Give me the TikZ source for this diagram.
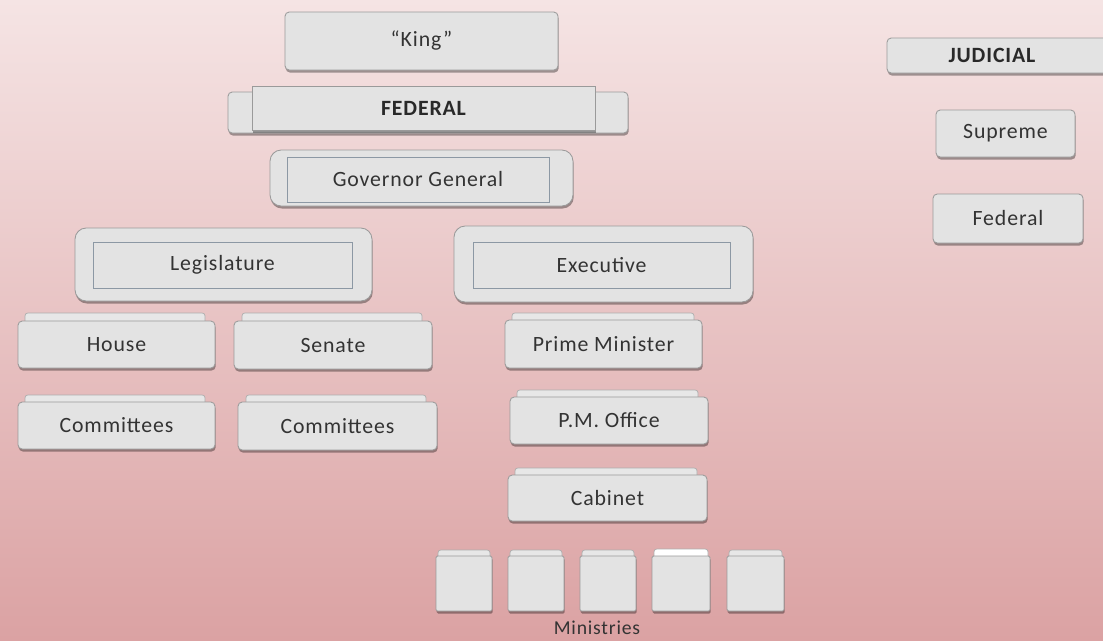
\documentclass[tikz,border=0pt]{standalone}
\usepackage{fontspec}
\setmainfont{Carlito}[LetterSpace=4]
\usetikzlibrary{fit,shadows}
\definecolor{bgtop}{HTML}{F5E4E4}
\definecolor{bgbot}{HTML}{DBA2A3}
\definecolor{boxfill}{HTML}{E3E3E3}
\definecolor{boxline}{HTML}{9A9A9A}
\definecolor{innerline}{HTML}{8C98A4}
\definecolor{txt}{HTML}{333333}
\tikzset{
  lbl/.style={font=\fontsize{15.5}{17}\selectfont, text=txt},
  blbl/.style={font=\fontsize{15.5}{17}\selectfont\bfseries, text=txt!80!black},
  bx/.style={fill=boxfill, draw=boxline, line width=0.6pt, rounded corners=3pt, inner sep=0pt,
    drop shadow={shadow xshift=0.5pt, shadow yshift=-1.8pt, fill=black, opacity=0.35}},
  rbx/.style={bx, rounded corners=8pt},
  inbox/.style={fill=boxfill, draw=innerline, line width=0.5pt, inner sep=0pt},
  tabbox/.style={fill=boxfill!85!white, draw=boxline!80, line width=0.5pt, rounded corners=2pt},
  txt/.style={label={[lbl]center:#1}},
  btxt/.style={label={[blbl]center:#1}},
}
\begin{document}
\begin{tikzpicture}[x=0.025cm, y=-0.025cm]
\useasboundingbox (0,0) rectangle (1103,640);
\shade[top color=bgtop, bottom color=bgbot] (0,0) rectangle (1103,640);

% King
\node[bx, fit={(285,12) (558,70)}, txt={``King''}] (king) {};

% FEDERAL
\node[bx, fit={(228,92) (628,133)}] (fedouter) {};
\node[bx, rounded corners=0pt, fit={(252,86) (595,130)}, btxt={FEDERAL}] (federal) {};

% Governor General
\node[rbx, fit={(270,150) (573,206)}] (ggouter) {};
\node[inbox, fit={(287,157) (549,202)}, txt={Governor General}] (gg) {};

% Legislature / Executive
\node[rbx, fit={(75,228) (372,301)}] (legouter) {};
\node[inbox, fit={(93,242) (352,288)}, txt={Legislature}] (leg) {};
\node[rbx, fit={(454,226) (753,302)}] (exouter) {};
\node[inbox, fit={(473,242) (730,288)}, txt={Executive}] (exec) {};

% House / Senate
\fill[tabbox] (25,313) rectangle (205,328);
\node[bx, fit={(18,321) (215,368)}, txt={House}] (house) {};
\fill[tabbox] (242,313) rectangle (422,328);
\node[bx, fit={(234,321) (432,369)}, txt={Senate}] (senate) {};

% Committees
\fill[tabbox] (25,395) rectangle (205,410);
\node[bx, fit={(18,402) (215,449)}, txt={Committees}] (comh) {};
\fill[tabbox] (246,395) rectangle (426,410);
\node[bx, fit={(238,402) (437,450)}, txt={Committees}] (coms) {};

% Executive branch
\fill[tabbox] (512,313) rectangle (694,328);
\node[bx, fit={(505,320) (702,368)}, txt={Prime Minister}] (pm) {};
\fill[tabbox] (517,390) rectangle (698,405);
\node[bx, fit={(510,397) (708,444)}, txt={P.M. Office}] (pmo) {};
\fill[tabbox] (515,468) rectangle (697,483);
\node[bx, fit={(508,475) (707,521)}, txt={Cabinet}] (cab) {};

% Ministries
\fill[tabbox] (438,550) rectangle (490,562);
\node[bx, rounded corners=1pt, fit={(436,556) (492,611)}] (m1) {};
\fill[tabbox] (510,550) rectangle (562,562);
\node[bx, rounded corners=1pt, fit={(508,556) (564,611)}] (m2) {};
\fill[tabbox] (582,550) rectangle (634,562);
\node[bx, rounded corners=1pt, fit={(580,556) (636,611)}] (m3) {};
\fill[tabbox, fill=white] (654,549) rectangle (708,562);
\node[bx, rounded corners=1pt, fit={(652,556) (710,611)}] (m4) {};
\fill[tabbox] (729,550) rectangle (782,562);
\node[bx, rounded corners=1pt, fit={(727,556) (784,611)}] (m5) {};
\node[lbl, font=\fontsize{14}{16}\selectfont, inner sep=0pt] (min) at (597,628) {Ministries};

% Judicial
\node[bx, fit={(887,38) (1110,73)}] (jud) {};
\node[blbl] (judt) at (992,55.5) {JUDICIAL};
\node[bx, fit={(936,110) (1075,157)}, txt={Supreme}] (sup) {};
\node[bx, fit={(933,194) (1083,243)}, txt={Federal}] (fedc) {};
\end{tikzpicture}
\end{document}
